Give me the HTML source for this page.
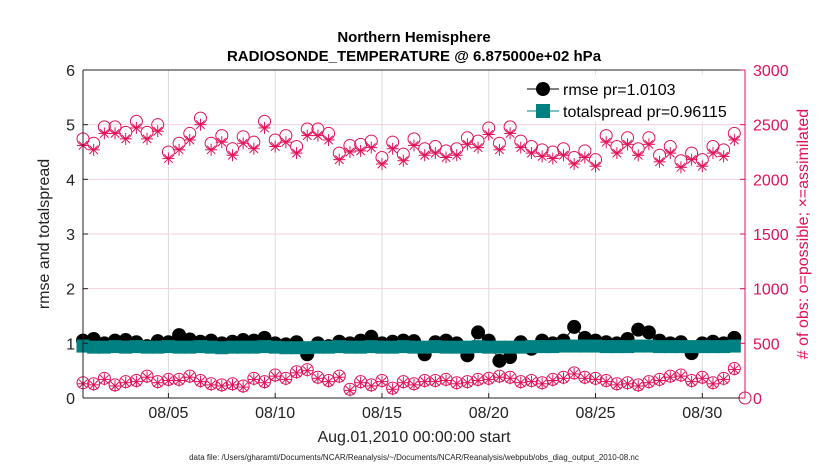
<!DOCTYPE html>
<html><head><meta charset="utf-8"><style>
body{margin:0;background:#fff;font-family:"Liberation Sans",sans-serif}
svg text{font-family:"Liberation Sans",sans-serif}
</style></head><body>
<svg id="c" width="830" height="470" xmlns="http://www.w3.org/2000/svg"></svg>
<script>
const xTicks=[4,9,14,19,24,29];
const xTickLabels=["08/05","08/10","08/15","08/20","08/25","08/30"];
const yTicks=[0,1,2,3,4,5,6];
const y2Ticks=[0,500,1000,1500,2000,2500,3000];
const possTop=[2370,2330,2480,2480,2430,2530,2430,2500,2250,2330,2420,2560,2330,2400,2280,2390,2340,2530,2360,2400,2300,2460,2460,2420,2240,2310,2320,2350,2200,2340,2230,2370,2280,2300,2260,2280,2380,2350,2470,2330,2480,2350,2300,2270,2250,2280,2200,2260,2180,2400,2300,2380,2280,2380,2220,2300,2170,2240,2180,2300,2270,2420,0];
const assimDiff=60;
const possBot=[140,130,180,120,150,160,200,150,170,170,200,160,130,120,130,110,180,150,210,180,240,260,190,160,200,80,150,120,160,90,150,130,160,160,170,140,150,170,180,200,190,150,160,140,170,190,230,190,180,160,130,140,120,150,170,200,210,160,190,140,180,270];
const rmse=[1.05,1.08,1.0,1.05,1.06,1.02,0.95,1.04,1.02,1.15,1.07,1.03,1.05,1.0,1.03,1.06,1.05,1.1,1.0,0.98,1.02,0.8,1.0,0.95,1.03,1.0,1.05,1.12,1.0,1.03,1.05,1.04,0.8,1.02,1.05,1.0,0.78,1.2,1.05,0.68,0.75,1.02,0.9,1.05,1.0,1.05,1.3,1.1,1.05,1.02,1.0,1.08,1.25,1.2,1.05,1.0,1.02,0.82,1.0,1.03,1.0,1.1];
const spread=[0.95,0.93,0.93,0.94,0.93,0.94,0.93,0.93,0.94,0.93,0.93,0.94,0.93,0.92,0.93,0.93,0.93,0.94,0.93,0.92,0.92,0.92,0.93,0.93,0.94,0.93,0.93,0.94,0.93,0.93,0.94,0.93,0.93,0.94,0.93,0.93,0.93,0.94,0.93,0.93,0.93,0.93,0.94,0.94,0.94,0.95,0.95,0.95,0.95,0.94,0.94,0.94,0.95,0.95,0.94,0.94,0.94,0.94,0.94,0.94,0.94,0.95];
const L=83,R=745,T=70,B=398;
const X=t=>L+(t/31)*(R-L);
const Y=v=>B-(v/6)*(B-T);
const Y2=v=>B-(v/3000)*(B-T);
const PINK="#e0105a",TEAL="#008080";
const svg=document.getElementById('c');
const NS="http://www.w3.org/2000/svg";
function mk(tag,at,parent){const e=document.createElementNS(NS,tag);for(const k in at)e.setAttribute(k,at[k]);(parent||svg).appendChild(e);return e;}
function txt(s,at){const e=mk('text',at);e.textContent=s;return e;}
xTicks.forEach(t=>{const l=mk('line',{x1:X(t),x2:X(t),y1:T,y2:B,stroke:"#dcdcdc","stroke-width":1});

});
yTicks.forEach(v=>{if(v>0&&v<6){const l=mk('line',{x1:L,x2:R,y1:Y(v),y2:Y(v),stroke:"#f3d0dc","stroke-width":1});

}});
function circ(x,y){const g=mk('g',{});mk('circle',{cx:x,cy:y,r:6,fill:"none",stroke:PINK,"stroke-width":1},g);return g;}
function star(x,y){const g=mk('g',{stroke:PINK,"stroke-width":1});for(let a=0;a<4;a++){const an=a*Math.PI/4;mk('line',{x1:x-6*Math.cos(an),y1:y-6*Math.sin(an),x2:x+6*Math.cos(an),y2:y+6*Math.sin(an)},g);}return g;}
possTop.forEach((v,i)=>{const x=X(i*0.5);const c=circ(x,Y2(v));


if(v>0){const s=star(x,Y2(v-assimDiff));

}});
possBot.forEach((v,i)=>{const x=X(i*0.5);const c=circ(x,Y2(v));


const s=star(x,Y2(v-10));

});
let p="";rmse.forEach((v,i)=>{p+=(i?"L":"M")+X(i*0.5)+","+Y(v);});
const rl=mk('path',{d:p,fill:"none",stroke:"#000","stroke-width":1});


rmse.forEach((v,i)=>{const c=mk('circle',{cx:X(i*0.5),cy:Y(v),r:7,fill:"#000"});

});
p="";spread.forEach((v,i)=>{p+=(i?"L":"M")+X(i*0.5)+","+Y(v);});
const sl=mk('path',{d:p,fill:"none",stroke:TEAL,"stroke-width":1});


spread.forEach((v,i)=>{const r=mk('rect',{x:X(i*0.5)-6.5,y:Y(v)-6.5,width:13,height:13,fill:TEAL});

});
mk('line',{x1:L,x2:L,y1:T,y2:B,stroke:"#222"});
mk('line',{x1:L,x2:R,y1:B,y2:B,stroke:"#222"});
mk('line',{x1:L,x2:R,y1:T,y2:T,stroke:"#222"});
mk('line',{x1:R,x2:R,y1:T,y2:B,stroke:PINK});
yTicks.forEach(v=>{mk('line',{x1:L,x2:L+5,y1:Y(v),y2:Y(v),stroke:"#222"});
const t=txt(v,{x:L-8,y:Y(v)+6,"text-anchor":"end","font-size":16,fill:"#222"});

});
y2Ticks.forEach(v=>{mk('line',{x1:R-5,x2:R,y1:Y2(v),y2:Y2(v),stroke:PINK});
const t=txt(v,{x:R+8,y:Y2(v)+6,"font-size":16,fill:PINK});

});
xTicks.forEach((v,i)=>{mk('line',{x1:X(v),x2:X(v),y1:B,y2:B-5,stroke:"#222"});
const t=txt(xTickLabels[i],{x:X(v),y:B+20,"text-anchor":"middle","font-size":16,fill:"#222"});

});
</script>
<svg width="830" height="470" style="position:absolute;left:0;top:0">
<text x="414" y="42" text-anchor="middle" font-size="15" font-weight="bold">Northern Hemisphere</text>
<text x="414" y="61" text-anchor="middle" font-size="15" font-weight="bold">RADIOSONDE_TEMPERATURE @ 6.875000e+02 hPa</text>
<text transform="translate(49,234) rotate(-90)" text-anchor="middle" font-size="16" fill="#222">rmse and totalspread</text>
<text transform="translate(808,234) rotate(-90)" text-anchor="middle" font-size="16" fill="#e0105a"># of obs: o=possible; ×=assimilated</text>
<text x="414" y="442" text-anchor="middle" font-size="16" fill="#222">Aug.01,2010 00:00:00 start</text>
<text x="414" y="460" text-anchor="middle" font-size="8" fill="#222">data file: /Users/gharamti/Documents/NCAR/Reanalysis/~/Documents/NCAR/Reanalysis/webpub/obs_diag_output_2010-08.nc</text>
<g>
<rect x="521" y="75" width="222" height="46" fill="#fff" stroke="#fff"/>
<line x1="527" y1="89" x2="559" y2="89" stroke="#000"/><circle cx="543" cy="89" r="7" fill="#000"/>
<text x="563" y="95" font-size="16">rmse pr=1.0103</text>
<line x1="527" y1="111" x2="559" y2="111" stroke="#008080"/><rect x="536" y="104" width="14" height="14" fill="#008080"/>
<text x="563" y="117" font-size="16">totalspread pr=0.96115</text>
</g>
</svg>
</body></html>
